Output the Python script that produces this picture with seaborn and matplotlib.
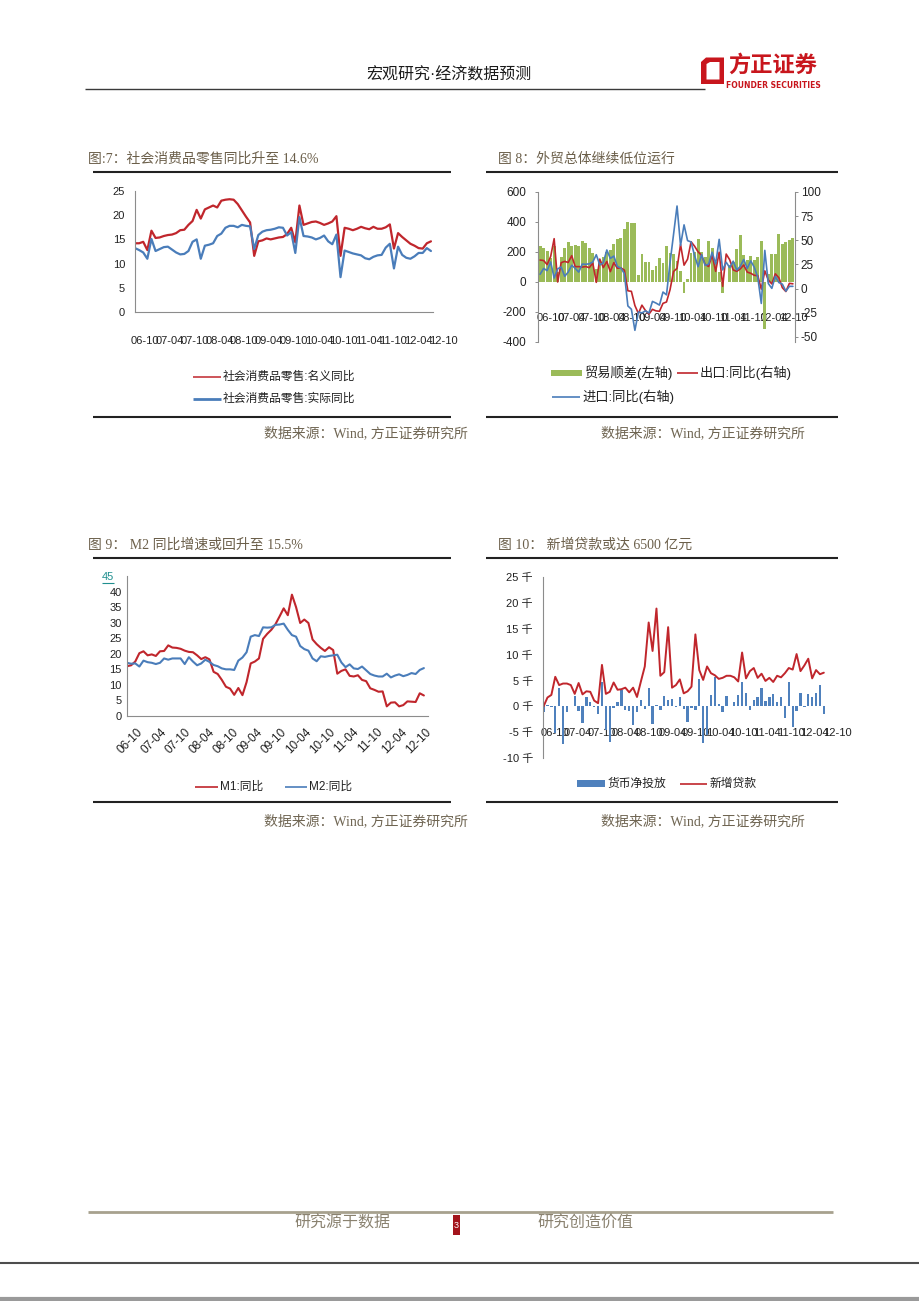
import numpy as np
import pandas as pd
import matplotlib.pyplot as plt
import seaborn as sns
from matplotlib.lines import Line2D
from matplotlib.patches import Polygon, Rectangle
from matplotlib.transforms import ScaledTranslation

W, H = 920, 1301

# monthly data, 2006-10 .. 2012-10
tick_labels = ['06-10', '07-04', '07-10', '08-04', '08-10', '09-04', '09-10',
               '10-04', '10-10', '11-04', '11-10', '12-04', '12-10']

# fig 7 - retail sales yoy (%)
retail_nominal = [14.2, 14.2, 14.5, 12.8, 16.8, 15.3, 15.4, 15.7, 15.9, 16.0,
                  16.3, 16.9, 17.0, 18.0, 18.8, 21.1, 19.3, 21.2, 21.6, 22.0,
                  21.6, 23.0, 23.2, 23.3, 23.2, 22.3, 21.0, 19.7, 18.5, 11.6,
                  14.6, 14.8, 15.2, 15.0, 15.2, 15.4, 15.5, 16.1, 17.4, 14.4,
                  22.0, 18.0, 18.3, 18.6, 18.7, 18.4, 18.0, 18.3, 18.7, 19.8,
                  11.6, 17.4, 17.2, 16.9, 17.2, 17.6, 17.3, 17.1, 17.6, 17.2,
                  17.2, 17.5, 18.1, 13.1, 16.3, 15.5, 14.8, 14.1, 13.7, 13.2,
                  13.1, 14.2, 14.6]
retail_real = [13.2, 12.8, 12.3, 11.0, 15.1, 12.6, 13.0, 13.4, 13.5, 12.9,
               12.3, 11.9, 12.0, 12.6, 14.5, 15.0, 11.0, 13.7, 13.9, 14.2,
               15.7, 16.2, 17.4, 17.8, 17.8, 17.5, 18.0, 17.8, 17.7, 13.0,
               15.9, 16.6, 16.9, 17.0, 17.2, 17.5, 17.4, 15.8, 16.5, 12.2,
               19.6, 15.7, 15.6, 15.4, 15.0, 15.3, 15.8, 14.6, 14.0, 16.0,
               7.2, 12.7, 12.4, 12.1, 11.9, 11.7, 11.1, 10.9, 11.4, 11.7,
               11.8, 13.3, 14.1, 9.0, 13.5, 11.8, 11.2, 11.0, 11.5, 12.2,
               12.2, 13.2, 12.6]

# fig 8 - trade balance (left) and export / import yoy (right)
trade_balance = [238, 229, 208,
                 159, 237, 68, 168, 224, 269, 243, 249, 239, 270, 263, 226,
                 195, 85, 134, 167, 202, 214, 252, 289, 293, 353, 401, 390,
                 391, 48, 186, 131, 134, 82, 106, 157, 129, 240, 191, 184,
                 142, 76, -72, 17, 195, 200, 287, 200, 169, 271, 229, 131,
                 64, -73, 1, 114, 131, 222, 315, 179, 145, 170, 145, 165,
                 272, -315, 53, 184, 187, 317, 251, 266, 277, 290]
export_yoy = [29.6, 29.1, 24.9,
              33.2, 51.7, 6.9, 26.9, 28.2, 27.1, 34.1, 22.7, 22.8, 22.3, 22.9, 21.7,
              26.6, 6.5, 30.6, 21.8, 28.1, 17.6, 26.9, 21.1, 21.5, 19.2, -2.2, -2.8,
              -17.5, -25.7, -17.1, -22.6, -26.4, -21.4, -23.0, -23.4, -15.2, -13.8, -1.2, 17.7,
              21.0, 45.7, 24.3, 30.5, 48.5, 43.9, 38.1, 34.4, 25.1, 22.9, 34.9, 17.9,
              37.7, 2.4, 35.8, 29.9, 19.4, 17.9, 20.4, 24.5, 17.1, 15.9, 13.8, 13.4,
              -0.5, 18.4, 8.9, 4.9, 15.3, 11.3, 1.0, -3.0, 5.5, 5.0]
import_yoy = [14.9, 20.9, 18.7,
              27.6, 11.0, 20.5, 22.4, 12.8, 17.1, 24.2, 21.0, 17.1, 25.4, 25.2, 25.7,
              27.6, 35.1, 24.6, 26.7, 40.0, 31.3, 33.7, 23.1, 21.3, 15.6, -17.9, -21.3,
              -43.1, -24.1, -25.1, -23.0, -25.2, -13.2, -14.9, -17.0, -3.5, -6.4, 26.7, 55.9,
              85.5, 44.7, 66.0, 49.7, 48.3, 34.1, 22.7, 35.2, 24.1, 25.3, 37.7, 25.6,
              51.0, 19.4, 27.3, 21.8, 28.4, 19.3, 22.9, 30.2, 20.9, 28.7, 22.1, 11.8,
              -15.3, 39.6, 5.3, 0.3, 12.7, 6.3, 4.7, -2.6, 2.4, 2.4]

# fig 9 - M1 / M2 yoy (%)
m1_yoy = [16.0, 16.3, 17.5, 20.2, 20.8, 19.5, 19.8, 19.3, 20.8, 20.9,
          22.7, 22.0, 21.9, 21.6, 21.0, 20.6, 20.5, 19.5, 18.3, 18.9,
          18.2, 14.2, 13.5, 11.6, 9.4, 8.8, 6.8, 9.0, 6.7, 10.9,
          16.9, 17.5, 18.5, 24.8, 26.4, 27.7, 29.5, 32.0, 34.6, 32.4,
          39.0, 35.0, 29.9, 31.0, 29.9, 24.6, 23.1, 21.9, 20.9, 22.1,
          21.2, 13.6, 14.5, 15.0, 12.9, 12.7, 13.1, 11.6, 11.2, 8.9,
          8.4, 7.8, 7.9, 3.1, 4.3, 4.4, 3.1, 3.5, 4.7, 4.6,
          4.5, 7.3, 6.6]
m2_yoy = [17.1, 16.8, 16.9, 15.9, 17.8, 17.3, 17.1, 16.7, 17.1, 18.5,
          18.1, 18.5, 18.5, 18.5, 16.7, 18.9, 17.5, 16.3, 16.9, 18.1,
          17.4, 16.4, 16.0, 15.3, 15.0, 15.0, 14.8, 17.8, 18.8, 20.5,
          25.5, 26.0, 25.7, 28.5, 28.4, 28.5, 29.3, 29.4, 29.7, 27.7,
          26.0, 25.5, 22.5, 21.5, 21.0, 18.5, 17.6, 19.2, 19.0, 19.3,
          19.5, 19.7, 17.2, 15.7, 16.6, 15.3, 15.1, 15.9, 14.7, 13.5,
          13.0, 12.7, 12.7, 13.6, 12.4, 13.0, 13.4, 12.8, 13.2, 13.8,
          13.5, 14.8, 15.4]

# fig 10 - net money injection (bars) and new loans, thousand 100m yuan
net_injection = [-1.2, 0.2, -0.2, -5.1, 3.6, -7.3, -1.2, 0.1, 1.9, -1.0,
                 -3.2, 1.8, 0.9, -0.1, -1.5, 4.7, -4.5, -7.0, -0.3, 0.9,
                 3.1, -0.7, -0.9, -3.6, -1.2, 1.3, -0.5, 3.6, -3.4, 0.2,
                 -0.8, 1.9, 1.3, 1.4, -0.1, 1.8, -0.5, -3.1, -0.3, -0.8,
                 5.3, -7.1, -5.5, 2.2, 5.7, 0.4, -1.2, 1.9, 0.1, 0.9,
                 2.2, 4.6, 2.6, -0.7, 1.3, 1.8, 3.6, 1.1, 1.8, 2.3,
                 0.9, 1.8, -2.2, 4.7, -4.1, -0.9, 2.6, -0.2, 2.3, 1.8,
                 2.6, 4.1, -1.5]
new_loans = [0.0, 1.7, 2.2, 5.7, 4.1, 4.4, 4.4, 4.1, 2.4, 4.5, 2.3, 2.9, 2.8, 1.1, 0.6, 8.0,
             2.4, 2.8, 4.6, 3.2, 3.3, 3.6, 2.7, 3.6, 1.8, 4.8, 7.7,
             16.2, 10.7, 18.9, 5.9, 6.6, 15.3, 3.6, 4.1, 5.2, 2.5, 2.9, 3.8,
             13.9, 7.0, 5.1, 7.7, 6.4, 6.0, 5.3, 5.5, 5.9, 5.9, 5.6, 4.8,
             10.4, 5.4, 6.8, 7.4, 5.5, 6.3, 4.9, 5.5, 4.7, 5.9, 5.6, 6.4,
             7.4, 7.1, 10.1, 6.8, 7.9, 9.2, 5.4, 7.0, 6.2, 6.5]

months = np.arange(len(retail_nominal))

RED = '#c0262c'
BLUE = '#4a7dba'
GREEN = '#9bbb59'
BAR_BLUE = '#4f81bd'
AXIS = '#8c8c8c'
TITLE_C = '#6b5f4a'
SRC_C = '#6f6552'
LOGO_RED = '#c8161d'
TEAL = '#1f8f8f'

sns.set_style('white')
plt.rcParams['font.family'] = ['Liberation Sans', 'Noto Sans CJK SC', 'DejaVu Sans']
plt.rcParams['axes.unicode_minus'] = False
SERIF = ['Liberation Serif', 'Noto Sans CJK SC']
CJK = ['Noto Sans CJK SC', 'DejaVu Sans']

fig = plt.figure(figsize=(W / 100, H / 100), dpi=100)


def box(x0, y0, x1, y1):
    return [x0 / W, 1 - y1 / H, (x1 - x0) / W, (y1 - y0) / H]


def fline(xs, ys, color, lw):
    fig.add_artist(Line2D([v / W for v in xs], [1 - v / H for v in ys], color=color,
                          lw=lw, transform=fig.transFigure, solid_capstyle='butt'))


def ftext(x, y, s, **kw):
    fig.text(x / W, 1 - y / H, s, **kw)


def fpatch(x0, y0, x1, y1, color):
    fig.add_artist(Rectangle((x0 / W, 1 - y1 / H), (x1 - x0) / W, (y1 - y0) / H,
                             color=color, lw=0, transform=fig.transFigure))


def base(ax):
    for s in ['top', 'right']:
        ax.spines[s].set_visible(False)
    for s in ['left', 'bottom']:
        ax.spines[s].set_color(AXIS)
        ax.spines[s].set_linewidth(0.8)
    ax.set_xlabel('')
    ax.set_ylabel('')
    ax.tick_params(labelcolor='#222222', labelsize=8, length=2.2, width=0.7)
    ax.tick_params(color=AXIS)


def shift_labels(ax, d0, d1, dy=0):
    labs = ax.get_xticklabels()
    n = len(labs)
    for k, lab in enumerate(labs):
        dx = d0 + (d1 - d0) * k / (n - 1)
        lab.set_transform(lab.get_transform() +
                          ScaledTranslation(dx / 100, dy / 100, fig.dpi_scale_trans))


# ---------------- header / footer ----------------
ftext(449, 75, '宏观研究·经济数据预测', ha='center', va='center', fontsize=11.5,
      family=['Liberation Sans', 'Noto Sans CJK SC'], color='#1a1a1a')
fline([85, 705], [88.5, 88.5], '#3a3a3a', 1.0)
outer = [(701, 62), (706, 57.5), (724, 57.5), (724, 84), (701, 84)]
inner = [(706.5, 64), (710, 62), (719.5, 62), (719.5, 79.5), (706.5, 79.5)]
fig.add_artist(Polygon([(x / W, 1 - y / H) for x, y in outer], closed=True,
                       color=LOGO_RED, lw=0, transform=fig.transFigure))
fig.add_artist(Polygon([(x / W, 1 - y / H) for x, y in inner], closed=True,
                       color='white', lw=0, transform=fig.transFigure))
ftext(773, 65, '方正证券', ha='center', va='center', fontsize=16, fontweight='bold',
      color=LOGO_RED, family=CJK)
ftext(773, 85.5, 'FOUNDER SECURITIES', ha='center', va='center', fontsize=5.5,
      fontweight='bold', color=LOGO_RED, family=['DejaVu Sans'])

fline([88, 833], [1212, 1212], '#a7a18e', 2)
ftext(342, 1223, '研究源于数据', ha='center', va='center', fontsize=11.5,
      color='#8a8270', family=CJK)
ftext(585, 1223, '研究创造价值', ha='center', va='center', fontsize=11.5,
      color='#8a8270', family=CJK)
fpatch(453, 1215, 460, 1235, '#a3141c')
ftext(456.5, 1225, '3', ha='center', va='center', fontsize=6.5, color='white')
fline([0, 920], [1263, 1263], '#4d4d4d', 1.5)
fline([0, 920], [1299, 1299], '#9a9a9a', 3)

# ---------------- titles, rules, sources ----------------
ftext(88, 159, '图:7：社会消费品零售同比升至 14.6%', va='center', fontsize=10,
      color=TITLE_C, family=SERIF)
ftext(498, 159, '图 8：外贸总体继续低位运行', va='center', fontsize=10,
      color=TITLE_C, family=SERIF)
ftext(88, 545, '图 9： M2 同比增速或回升至 15.5%', va='center', fontsize=10,
      color=TITLE_C, family=SERIF)
ftext(498, 545, '图 10： 新增贷款或达 6500 亿元', va='center', fontsize=10,
      color=TITLE_C, family=SERIF)
for y in [172, 417, 558, 802]:
    fline([93, 451], [y, y], '#222222', 1.5)
    fline([486, 838], [y, y], '#222222', 1.5)
for y in [433, 821]:
    ftext(468, y, '数据来源：Wind, 方正证券研究所', ha='right', va='center',
          fontsize=10, color=SRC_C, family=SERIF)
    ftext(805, y, '数据来源：Wind, 方正证券研究所', ha='right', va='center',
          fontsize=10, color=SRC_C, family=SERIF)

# ---------------- fig 7 ----------------
df_retail = pd.DataFrame({'month': months, 'nominal': retail_nominal, 'real': retail_real})
ax1 = fig.add_axes(box(135, 191, 433, 312))
sns.lineplot(data=df_retail, x='month', y='nominal', ax=ax1, color=RED, lw=1.6)
sns.lineplot(data=df_retail, x='month', y='real', ax=ax1, color=BLUE, lw=1.6)
base(ax1)
ax1.set_xlim(0, 72.5)
ax1.set_ylim(0, 25)
ax1.set_yticks(range(0, 26, 5))
ax1.set_xticks(range(0, 73, 6), tick_labels)
ax1.tick_params(axis='x', labelsize=8, pad=15)
ax1.tick_params(axis='y', pad=5)
shift_labels(ax1, 10, 12)

fline([193, 221], [377, 377], RED, 1.1)
ftext(223, 377, '社会消费品零售:名义同比', va='center', fontsize=8.5, color='#222222')
fline([193, 221], [399, 399], BLUE, 2.0)
ftext(223, 399, '社会消费品零售:实际同比', va='center', fontsize=8.5, color='#222222')

# ---------------- fig 8 ----------------
df_trade = pd.DataFrame({'month': months, 'balance': trade_balance,
                         'export': export_yoy, 'import': import_yoy})
ax2 = fig.add_axes(box(538, 192, 795, 342))
sns.barplot(data=df_trade, x='month', y='balance', ax=ax2, color=GREEN,
            native_scale=True, width=0.8, saturation=1, errorbar=None,
            linewidth=0, edgecolor='none')
ax2r = ax2.twinx()
sns.lineplot(data=df_trade, x='month', y='export', ax=ax2r, color=RED, lw=1.2)
sns.lineplot(data=df_trade, x='month', y='import', ax=ax2r, color=BLUE, lw=1.2)
base(ax2)
ax2.set_xlim(-0.6, 72.6)
ax2.set_ylim(-400, 600)
ax2.set_yticks(range(-400, 601, 200))
ax2.spines['bottom'].set_position(('data', -200))
ax2.spines['bottom'].set_visible(False)
ax2.set_xticks(range(0, 73, 6), tick_labels)
ax2.tick_params(axis='x', length=0, pad=1, labelsize=8)
ax2.tick_params(axis='y', pad=6, labelsize=8.5)
shift_labels(ax2, 11, 1)
for s in ['left', 'top', 'bottom']:
    ax2r.spines[s].set_visible(False)
ax2r.spines['right'].set_color(AXIS)
ax2r.spines['right'].set_linewidth(0.8)
ax2r.set_ylim(-55.2, 100)
ax2r.set_yticks(range(-50, 101, 25))
ax2r.set_ylabel('')
ax2r.tick_params(axis='y', labelcolor='#222222', labelsize=8.5, length=2.2, width=0.7, pad=2)
ax2r.tick_params(axis='y', color=AXIS)
ax2r.set_xlim(-0.6, 72.6)

fpatch(551, 370, 582, 376, GREEN)
ftext(584, 373, '贸易顺差(左轴)', va='center', fontsize=9.5, color='#222222')
fline([677, 698], [373, 373], RED, 1.2)
ftext(700, 373, '出口:同比(右轴)', va='center', fontsize=9.5, color='#222222')
fline([552, 580], [397, 397], BLUE, 1.2)
ftext(582, 397, '进口:同比(右轴)', va='center', fontsize=9.5, color='#222222')

# ---------------- fig 9 ----------------
df_money = pd.DataFrame({'month': months, 'm1': m1_yoy, 'm2': m2_yoy})
ax3 = fig.add_axes(box(127, 576, 428, 716))
sns.lineplot(data=df_money, x='month', y='m1', ax=ax3, color=RED, lw=1.5)
sns.lineplot(data=df_money, x='month', y='m2', ax=ax3, color=BLUE, lw=1.5)
base(ax3)
ax3.set_xlim(0, 73)
ax3.set_ylim(0, 45)
ax3.set_yticks(range(0, 46, 5))
ax3.set_xticks(range(0, 73, 6), tick_labels, rotation=45, ha='right',
               rotation_mode='anchor')
ax3.tick_params(axis='x', labelsize=8.5, pad=5)
ax3.tick_params(axis='y', pad=1.5)
top_lab = ax3.get_yticklabels()[-1]
top_lab.set_color(TEAL)
top_lab.set_transform(top_lab.get_transform() +
                      ScaledTranslation(-0.08, 0, fig.dpi_scale_trans))
shift_labels(ax3, 10, 1)
fline([102, 114], [582.5, 582.5], TEAL, 0.8)

fline([195, 218], [787, 787], RED, 1.2)
ftext(220, 787, 'M1:同比', va='center', fontsize=8.5, color='#222222')
fline([285, 307], [787, 787], BLUE, 1.2)
ftext(309, 787, 'M2:同比', va='center', fontsize=8.5, color='#222222')

# ---------------- fig 10 ----------------
df_loan = pd.DataFrame({'month': months, 'inject': net_injection, 'loans': new_loans})
ax4 = fig.add_axes(box(543, 577, 825, 758))
sns.barplot(data=df_loan, x='month', y='inject', ax=ax4, color=BAR_BLUE,
            native_scale=True, width=0.6, saturation=1, errorbar=None,
            linewidth=0, edgecolor='none')
sns.lineplot(data=df_loan, x='month', y='loans', ax=ax4, color=RED, lw=1.4)
base(ax4)
ax4.set_xlim(-0.15, 72.3)
ax4.set_ylim(-10, 25)
ax4.set_yticks(range(-10, 26, 5), [f'{v} 千' for v in range(-10, 26, 5)])
ax4.spines['bottom'].set_position(('data', -4.0))
ax4.spines['bottom'].set_visible(False)
ax4.set_xticks(range(0, 73, 6), tick_labels)
ax4.tick_params(axis='x', length=0, pad=1, labelsize=8)
ax4.tick_params(axis='y', pad=5, labelsize=8)
shift_labels(ax4, 11, 14)

fpatch(577, 780, 605, 787, BAR_BLUE)
ftext(608, 784, '货币净投放', va='center', fontsize=8.5, color='#222222')
fline([680, 707], [784, 784], RED, 1.2)
ftext(710, 784, '新增贷款', va='center', fontsize=8.5, color='#222222')

fig.savefig('out.png', dpi=100)
